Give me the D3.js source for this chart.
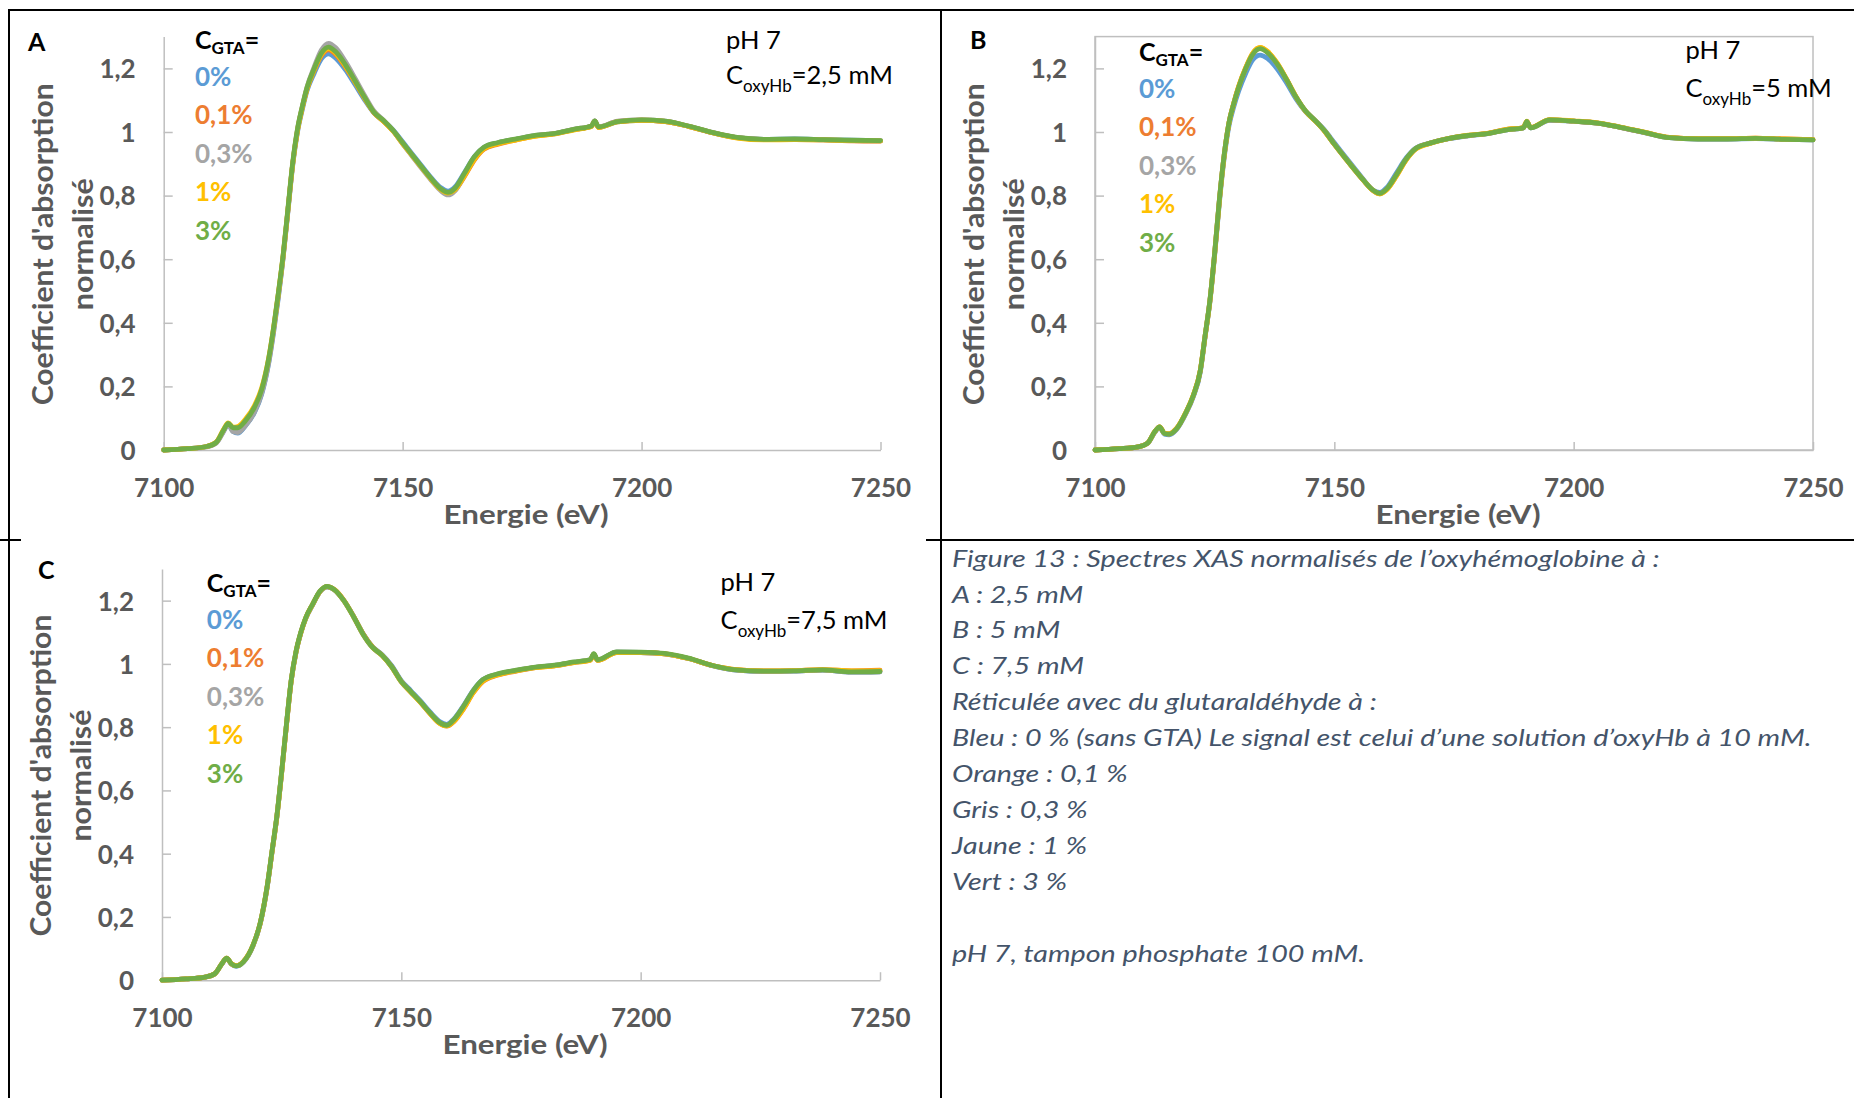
<!DOCTYPE html>
<html><head><meta charset="utf-8">
<script src="https://cdn.jsdelivr.net/npm/d3@7"></script>
<style>
html,body{margin:0;padding:0;background:#fff;}
svg{display:block;}
text{font-family:Lato,"Open Sans",sans-serif;}
</style></head><body>
<svg id="chart" width="1854" height="1098"></svg>
<script>
// ---------- DATA ----------
const energy = [7100,7105,7109,7111,7112.5,7113.5,7114.5,7115.5,7117,7119,
  7120.5,7122,7123,7124,7125,7126,7127,7128,7129,7130,
  7131.5,7133,7134.5,7136,7138,7140,7142,7144,7146,7148,
  7150,7152,7154,7156,7158,7159.5,7161,7163,7165,7167,
  7170,7174,7178,7182,7186,7189.5,7190.2,7191,7195,7200,
  7205,7210,7215,7220,7226,7232,7238,7244,7250];

const seriesNames = ["0%","0,1%","0,3%","1%","3%"];
const xTicks = [7100,7150,7200,7250];
const xTickLabels = ["7100","7150","7200","7250"];
const yTicks = [0,0.2,0.4,0.6,0.8,1,1.2];
const yTickLabels = ["0","0,2","0,4","0,6","0,8","1","1,2"];
const panelLetters = ["A","B","C"];
const panelConc = ["=2,5 mM","=5 mM","=7,5 mM"];
const captionLines = [
  "Figure 13 : Spectres XAS normalisés de l’oxyhémoglobine à :",
  "A : 2,5 mM",
  "B : 5 mM",
  "C : 7,5 mM",
  "Réticulée avec du glutaraldéhyde à :",
  "Bleu : 0 % (sans GTA) Le signal est celui d’une solution d’oxyHb à 10 mM.",
  "Orange : 0,1 %",
  "Gris : 0,3 %",
  "Jaune : 1 %",
  "Vert : 3 %",
  "",
  "pH 7, tampon phosphate 100 mM."
];

// Panel A (2,5 mM)
const aBlue = [0.000,0.004,0.011,0.023,0.058,0.080,0.058,0.053,0.074,0.118,
  0.175,0.275,0.370,0.480,0.605,0.750,0.895,1.000,1.070,1.130,
  1.185,1.230,1.246,1.232,1.196,1.150,1.102,1.060,1.034,1.007,
  0.969,0.931,0.893,0.856,0.825,0.814,0.828,0.874,0.922,0.951,
  0.966,0.978,0.989,0.995,1.008,1.018,1.034,1.015,1.032,1.037,
  1.033,1.017,0.997,0.982,0.977,0.978,0.976,0.974,0.973];
const aOrange = [0.000,0.004,0.011,0.024,0.061,0.083,0.067,0.066,0.086,0.130,
  0.185,0.285,0.380,0.490,0.610,0.755,0.900,1.005,1.076,1.136,
  1.194,1.240,1.258,1.244,1.205,1.158,1.107,1.061,1.034,1.003,
  0.964,0.926,0.888,0.851,0.819,0.807,0.818,0.862,0.912,0.946,
  0.962,0.976,0.988,0.995,1.008,1.018,1.034,1.015,1.033,1.037,
  1.033,1.017,0.997,0.982,0.976,0.976,0.975,0.972,0.971];
const aGray = [0.000,0.004,0.010,0.022,0.058,0.082,0.058,0.055,0.075,0.120,
  0.178,0.278,0.375,0.485,0.608,0.755,0.900,1.008,1.080,1.142,
  1.205,1.258,1.279,1.265,1.222,1.170,1.116,1.066,1.037,1.004,
  0.963,0.924,0.885,0.848,0.815,0.802,0.816,0.866,0.918,0.950,
  0.966,0.978,0.989,0.996,1.009,1.019,1.035,1.016,1.034,1.038,
  1.034,1.018,0.998,0.982,0.977,0.977,0.975,0.973,0.972];
const aYellow = [0.000,0.004,0.011,0.025,0.064,0.085,0.072,0.074,0.095,0.140,
  0.195,0.292,0.385,0.493,0.612,0.756,0.900,1.005,1.076,1.136,
  1.196,1.244,1.262,1.248,1.208,1.159,1.108,1.061,1.034,1.003,
  0.964,0.926,0.888,0.851,0.819,0.808,0.819,0.864,0.914,0.947,
  0.963,0.976,0.987,0.994,1.007,1.017,1.033,1.014,1.032,1.037,
  1.033,1.017,0.997,0.981,0.975,0.976,0.975,0.973,0.972];
const aGreen = [0.000,0.004,0.011,0.024,0.062,0.084,0.070,0.070,0.090,0.135,
  0.190,0.290,0.385,0.495,0.615,0.760,0.905,1.010,1.080,1.140,
  1.200,1.248,1.267,1.252,1.212,1.162,1.110,1.062,1.036,1.005,
  0.966,0.928,0.890,0.853,0.821,0.810,0.824,0.872,0.922,0.952,
  0.967,0.979,0.990,0.996,1.009,1.019,1.035,1.016,1.033,1.038,
  1.034,1.018,0.998,0.983,0.977,0.978,0.976,0.974,0.973];

// Panel B (5 mM)
const bBlue = [0.000,0.004,0.010,0.021,0.056,0.071,0.050,0.048,0.064,0.115,
  0.166,0.245,0.355,0.465,0.612,0.780,0.920,1.020,1.080,1.128,
  1.185,1.228,1.242,1.232,1.200,1.155,1.104,1.064,1.036,1.005,
  0.966,0.928,0.890,0.852,0.818,0.810,0.826,0.872,0.918,0.949,
  0.965,0.979,0.988,0.995,1.007,1.013,1.032,1.013,1.037,1.034,
  1.028,1.014,0.997,0.982,0.978,0.978,0.979,0.977,0.975];
const bOrange = [0.000,0.004,0.010,0.022,0.058,0.073,0.053,0.051,0.067,0.118,
  0.170,0.250,0.358,0.468,0.618,0.788,0.928,1.030,1.091,1.142,
  1.202,1.248,1.265,1.253,1.217,1.166,1.110,1.065,1.035,1.002,
  0.961,0.923,0.885,0.849,0.817,0.806,0.820,0.863,0.913,0.947,
  0.965,0.980,0.989,0.996,1.008,1.014,1.033,1.014,1.038,1.034,
  1.028,1.014,0.998,0.983,0.979,0.979,0.981,0.978,0.976];
const bGray = [0.000,0.004,0.010,0.022,0.057,0.072,0.052,0.050,0.066,0.117,
  0.169,0.249,0.359,0.469,0.619,0.789,0.929,1.029,1.090,1.140,
  1.200,1.246,1.263,1.251,1.215,1.165,1.110,1.066,1.036,1.003,
  0.962,0.924,0.886,0.850,0.818,0.806,0.821,0.865,0.914,0.948,
  0.965,0.980,0.989,0.995,1.007,1.013,1.033,1.013,1.038,1.034,
  1.028,1.014,0.998,0.982,0.978,0.978,0.980,0.977,0.975];
const bYellow = [0.000,0.004,0.010,0.022,0.058,0.073,0.053,0.051,0.067,0.119,
  0.171,0.251,0.358,0.468,0.617,0.786,0.927,1.029,1.091,1.143,
  1.203,1.249,1.266,1.254,1.218,1.167,1.111,1.065,1.035,1.002,
  0.961,0.923,0.885,0.849,0.817,0.805,0.819,0.862,0.912,0.946,
  0.964,0.980,0.990,0.996,1.008,1.014,1.034,1.014,1.039,1.035,
  1.029,1.015,0.999,0.983,0.979,0.979,0.981,0.978,0.976];
const bGreen = [0.000,0.004,0.010,0.022,0.058,0.073,0.052,0.050,0.066,0.118,
  0.170,0.250,0.360,0.470,0.620,0.790,0.930,1.030,1.090,1.140,
  1.200,1.245,1.262,1.250,1.215,1.165,1.110,1.066,1.036,1.003,
  0.962,0.924,0.886,0.850,0.818,0.807,0.822,0.866,0.915,0.948,
  0.965,0.980,0.989,0.995,1.007,1.013,1.033,1.013,1.038,1.034,
  1.028,1.014,0.998,0.982,0.978,0.978,0.980,0.977,0.975];

// Panel C (7,5 mM)
const cBlue = [0.000,0.004,0.010,0.020,0.051,0.069,0.051,0.044,0.057,0.108,
  0.177,0.296,0.406,0.516,0.656,0.806,0.946,1.036,1.097,1.142,
  1.187,1.228,1.243,1.234,1.200,1.151,1.096,1.054,1.029,0.994,
  0.947,0.915,0.883,0.848,0.818,0.809,0.826,0.868,0.916,0.950,
  0.967,0.979,0.989,0.995,1.005,1.013,1.031,1.012,1.037,1.036,
  1.032,1.017,0.994,0.980,0.976,0.977,0.980,0.974,0.975];
const cOrange = [0.000,0.004,0.010,0.020,0.052,0.070,0.052,0.046,0.059,0.110,
  0.179,0.298,0.407,0.517,0.656,0.806,0.947,1.038,1.098,1.144,
  1.189,1.229,1.244,1.235,1.201,1.151,1.095,1.053,1.027,0.991,
  0.944,0.911,0.878,0.843,0.812,0.803,0.818,0.858,0.908,0.944,
  0.964,0.977,0.988,0.994,1.004,1.012,1.030,1.011,1.036,1.036,
  1.032,1.017,0.995,0.982,0.978,0.979,0.982,0.978,0.980];
const cGray = [0.000,0.004,0.010,0.020,0.051,0.069,0.051,0.045,0.058,0.109,
  0.178,0.298,0.408,0.518,0.658,0.808,0.948,1.038,1.099,1.144,
  1.189,1.229,1.244,1.234,1.199,1.149,1.093,1.051,1.026,0.990,
  0.943,0.911,0.879,0.844,0.814,0.805,0.823,0.865,0.914,0.949,
  0.967,0.979,0.989,0.995,1.005,1.013,1.031,1.012,1.037,1.036,
  1.032,1.017,0.994,0.980,0.976,0.977,0.980,0.974,0.975];
const cYellow = [0.000,0.004,0.010,0.020,0.052,0.070,0.052,0.046,0.059,0.110,
  0.179,0.299,0.408,0.518,0.657,0.807,0.947,1.038,1.098,1.144,
  1.189,1.229,1.244,1.235,1.200,1.150,1.094,1.052,1.026,0.990,
  0.943,0.910,0.878,0.843,0.812,0.804,0.819,0.859,0.909,0.945,
  0.965,0.978,0.988,0.994,1.004,1.012,1.030,1.011,1.036,1.036,
  1.032,1.017,0.995,0.982,0.978,0.979,0.982,0.978,0.979];
const cGreen = [0.000,0.004,0.010,0.020,0.052,0.070,0.052,0.045,0.058,0.110,
  0.180,0.300,0.410,0.520,0.660,0.810,0.950,1.040,1.100,1.145,
  1.190,1.230,1.245,1.235,1.200,1.150,1.094,1.052,1.027,0.991,
  0.944,0.912,0.880,0.845,0.815,0.806,0.824,0.866,0.915,0.950,
  0.968,0.980,0.990,0.996,1.006,1.014,1.032,1.013,1.038,1.037,
  1.033,1.018,0.995,0.981,0.977,0.978,0.981,0.975,0.976];

// ---------- STYLE / LAYOUT ----------
const seriesColors = ["#5B9BD5","#ED7D31","#A5A5A5","#FFC000","#70AD47"];
const axisColor = "#BFBFBF";
const labelColor = "#595959";
const xDomain = [7100,7250];
const yDomain = [0,1.3];

const panels = [
  {letter:panelLetters[0], conc:panelConc[0], series:[aBlue,aOrange,aGray,aYellow,aGreen],
   left:163.7, right:880.5, top:36.6, bottom:450, box:false,
   letterPos:[28,51], legendPos:[195,48.5], phPos:[726,48.5], phGap:35.5},
  {letter:panelLetters[1], conc:panelConc[1], series:[bBlue,bOrange,bGray,bYellow,bGreen],
   left:1095, right:1813, top:36.6, bottom:450, box:true,
   letterPos:[970,49], legendPos:[1139,60.5], phPos:[1685.5,59], phGap:38},
  {letter:panelLetters[2], conc:panelConc[2], series:[cBlue,cOrange,cGray,cYellow,cGreen],
   left:162, right:880, top:569, bottom:980.2, box:false,
   letterPos:[38,578.5], legendPos:[206.8,591.5], phPos:[720.6,591], phGap:38}
];

const svg = d3.select("#chart");

// Table borders
const borders = svg.append("g").attr("stroke","#000").attr("stroke-width",2).attr("fill","none");
borders.append("path").attr("d","M8,10H1854");
borders.append("path").attr("d","M9,9V1098");
borders.append("path").attr("d","M941,9V1098");
borders.append("path").attr("d","M926,540H1854");
borders.append("path").attr("d","M0,540H21");

panels.forEach(p => {
  const g = svg.append("g");
  const x = d3.scaleLinear().domain(xDomain).range([p.left,p.right]);
  const y = d3.scaleLinear().domain(yDomain).range([p.bottom,p.top]);

  if (p.box) {
    g.append("rect").attr("x",p.left).attr("y",p.top)
      .attr("width",p.right-p.left).attr("height",p.bottom-p.top)
      .attr("fill","none").attr("stroke",axisColor).attr("stroke-width",1.5);
  }

  // Y axis
  const ya = g.append("g").attr("transform",`translate(${p.left},0)`)
    .call(d3.axisLeft(y).tickValues(yTicks).tickFormat((d,i)=>yTickLabels[i])
      .tickSizeInner(-9).tickSizeOuter(0).tickPadding(28));
  // X axis
  const xa = g.append("g").attr("transform",`translate(0,${p.bottom})`)
    .call(d3.axisBottom(x).tickValues(xTicks).tickFormat((d,i)=>xTickLabels[i])
      .tickSizeInner(-8).tickSizeOuter(0));
  [ya,xa].forEach(a=>{
    a.select(".domain").attr("stroke",axisColor).attr("stroke-width",1.5);
    a.selectAll(".tick line").attr("stroke",axisColor).attr("stroke-width",1.5);
    a.selectAll(".tick text").attr("fill",labelColor).style("font-family","Lato")
      .style("font-size","26px").style("font-weight","bold");
  });
  ya.selectAll(".tick text").attr("dy","0.36em");
  xa.selectAll(".tick text").attr("y",47).attr("dy",0);

  // Axis titles
  g.append("text").attr("x",(p.left+p.right)/2+4).attr("y",p.bottom+74)
    .attr("text-anchor","middle").attr("fill",labelColor)
    .style("font-size","26px").style("font-weight","bold")
    .attr("textLength",165).attr("lengthAdjust","spacingAndGlyphs")
    .text("Energie (eV)");
  const cy = (p.top+p.bottom)/2+1;
  g.append("text").attr("transform",`translate(${p.left-111},${cy}) rotate(-90)`)
    .attr("text-anchor","middle").attr("fill",labelColor)
    .style("font-size","28px").style("font-weight","bold")
    .attr("textLength",322).attr("lengthAdjust","spacingAndGlyphs")
    .text("Coefficient d'absorption");
  g.append("text").attr("transform",`translate(${p.left-71},${cy}) rotate(-90)`)
    .attr("text-anchor","middle").attr("fill",labelColor)
    .style("font-size","28px").style("font-weight","bold")
    .attr("textLength",132).attr("lengthAdjust","spacingAndGlyphs")
    .text("normalisé");

  // Series lines
  const line = d3.line().x((d,i)=>x(energy[i])).y(d=>y(d)).curve(d3.curveMonotoneX);
  g.append("g").selectAll("path").data(p.series).join("path")
    .attr("d",line).attr("fill","none")
    .attr("stroke",(d,i)=>seriesColors[i]).attr("stroke-width",4.8)
    .attr("stroke-linejoin","round").attr("stroke-linecap","round");

  // Panel letter
  g.append("text").attr("x",p.letterPos[0]).attr("y",p.letterPos[1])
    .attr("fill","#000").style("font-size","25px").style("font-weight","bold").text(p.letter);

  // Legend
  const lg = g.append("text").attr("x",p.legendPos[0]).attr("y",p.legendPos[1])
    .attr("fill","#000").style("font-weight","bold");
  lg.append("tspan").style("font-size","25px").text("C");
  lg.append("tspan").style("font-size","17px").attr("dy",5).text("GTA");
  lg.append("tspan").style("font-size","25px").attr("dy",-5).text("=");
  seriesNames.forEach((n,i)=>{
    g.append("text").attr("x",p.legendPos[0]).attr("y",p.legendPos[1]+37.5+i*38.4)
      .attr("fill",seriesColors[i]).style("font-size","26px").style("font-weight","bold").text(n);
  });

  // pH / concentration
  g.append("text").attr("x",p.phPos[0]).attr("y",p.phPos[1]).attr("fill","#000")
    .style("font-size","25.5px").text("pH 7");
  const ct = g.append("text").attr("x",p.phPos[0]).attr("y",p.phPos[1]+p.phGap).attr("fill","#000");
  ct.append("tspan").style("font-size","25.5px").text("C");
  ct.append("tspan").style("font-size","17px").attr("dy",8).text("oxyHb");
  ct.append("tspan").style("font-size","25.5px").attr("dy",-8).text(p.conc);
});

// Caption
const cap = svg.append("g");
const capText = cap.selectAll("text").data(captionLines).join("text")
  .attr("x",0).attr("y",(d,i)=>566.7+i*35.9)
  .attr("fill","#44546A").style("font-size","23px").style("font-style","italic")
  .text(d=>d);
let maxW = 0;
capText.each(function(){ maxW = Math.max(maxW, this.getComputedTextLength()); });
const sx = maxW>0 ? 859.5/maxW : 1;
cap.attr("transform",`translate(952,0) scale(${sx},1)`);
</script></body></html>
